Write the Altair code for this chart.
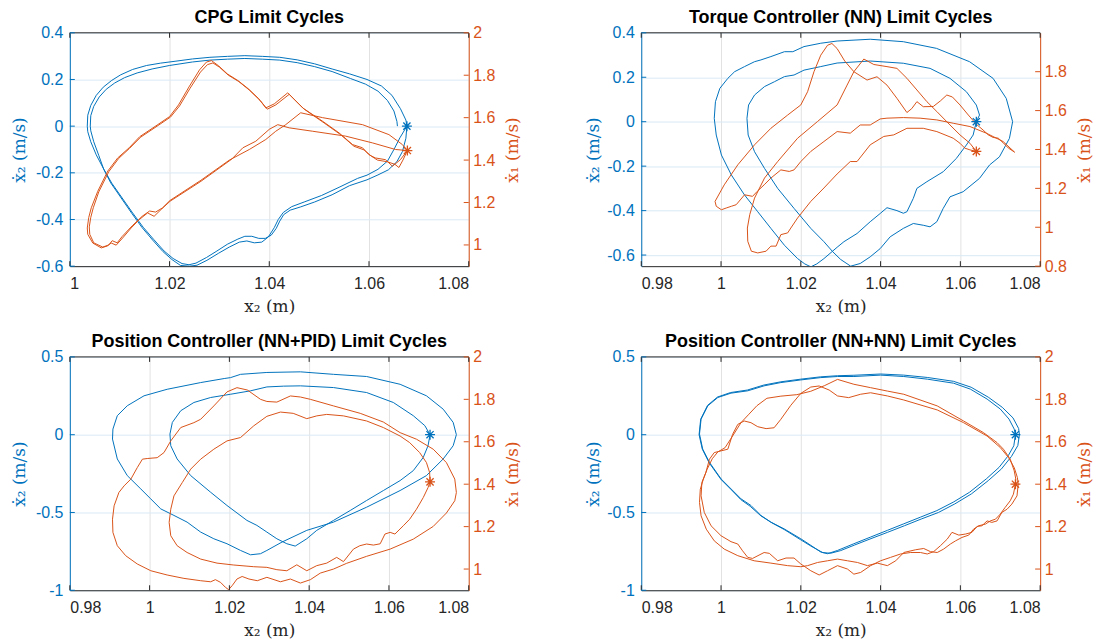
import altair as alt
import pandas as pd

BLUE = "#0072BD"
ORANGE = "#D95319"
DARK = "#262626"
STAR = "M-1,0L1,0M0,-1L0,1M-0.72,-0.72L0.72,0.72M-0.72,0.72L0.72,-0.72"
TICK_UP = "M0,0L0,-1"
TICK_DOWN = "M0,0L0,1"
TICK_RIGHT = "M0,0L1,0"
TICK_LEFT = "M0,0L-1,0"
W, H = 400, 234

# ---------------- CPG (top-left) ----------------
TL_X_TICKS = [1.00, 1.02, 1.04, 1.06, 1.08]
TL_L_TICKS = [-0.6, -0.4, -0.2, 0.0, 0.2, 0.4]
TL_R_TICKS = [1.0, 1.2, 1.4, 1.6, 1.8, 2.0]
TL_BLUE_A = [(1.0676,0.000),(1.0674,-0.052),(1.0667,-0.109),(1.0656,-0.152),(1.0639,-0.187),(1.0618,-0.209),(1.0596,-0.230),(1.0561,-0.255),(1.0526,-0.294),(1.0491,-0.325),(1.0463,-0.346),(1.0442,-0.360),(1.0429,-0.379),(1.0421,-0.407),(1.0414,-0.438),(1.0404,-0.467),(1.0392,-0.481),(1.0379,-0.481),(1.0365,-0.472),(1.0351,-0.472),(1.0337,-0.484),(1.0316,-0.506),(1.0295,-0.535),(1.0274,-0.563),(1.0253,-0.587),(1.0239,-0.594),(1.0225,-0.589),(1.0207,-0.567),(1.0189,-0.535),(1.0168,-0.485),(1.0147,-0.433),(1.0126,-0.372),(1.0105,-0.308),(1.0084,-0.244),(1.0067,-0.180),(1.0053,-0.123),(1.0042,-0.067),(1.0036,-0.024),(1.0035,0.000),(1.0036,0.047),(1.0042,0.089),(1.0053,0.132),(1.0067,0.167),(1.0084,0.196),(1.0102,0.220),(1.0126,0.243),(1.0154,0.260),(1.0182,0.270),(1.0211,0.278),(1.0246,0.288),(1.0281,0.295),(1.0316,0.299),(1.0351,0.302),(1.0386,0.299),(1.0421,0.295),(1.0456,0.284),(1.0491,0.267),(1.0526,0.245),(1.0561,0.224),(1.0596,0.200),(1.0625,0.172),(1.0646,0.132),(1.0663,0.075),(1.0674,0.026),(1.0676,0.000)]
TL_BLUE_B = [(1.0676,0.000),(1.0662,-0.050),(1.0650,-0.100),(1.0637,-0.150),(1.0618,-0.185),(1.0596,-0.210),(1.0577,-0.224),(1.0540,-0.262),(1.0505,-0.297),(1.0470,-0.325),(1.0445,-0.345),(1.0428,-0.370),(1.0418,-0.400),(1.0410,-0.435),(1.0398,-0.475),(1.0385,-0.497),(1.0370,-0.500),(1.0355,-0.492),(1.0340,-0.497),(1.0320,-0.518),(1.0298,-0.545),(1.0275,-0.575),(1.0255,-0.596),(1.0240,-0.600),(1.0222,-0.597),(1.0205,-0.572),(1.0187,-0.538),(1.0166,-0.488),(1.0145,-0.435),(1.0124,-0.373),(1.0103,-0.308),(1.0082,-0.243),(1.0068,-0.185),(1.0058,-0.125),(1.0048,-0.067),(1.0042,-0.020),(1.0041,0.000),(1.0042,0.045),(1.0048,0.085),(1.0059,0.125),(1.0073,0.158),(1.0090,0.185),(1.0110,0.208),(1.0135,0.228),(1.0165,0.245),(1.0200,0.260),(1.0246,0.275),(1.0281,0.283),(1.0316,0.287),(1.0351,0.290),(1.0386,0.287),(1.0421,0.283),(1.0456,0.272),(1.0491,0.255),(1.0526,0.234),(1.0563,0.204),(1.0593,0.180),(1.0618,0.150),(1.0637,0.110),(1.0650,0.065),(1.0656,0.020),(1.0657,0.000)]
TL_ORANGE_1 = [(1.0677,1.445),(1.0653,1.450),(1.0607,1.481),(1.0553,1.513),(1.0487,1.536),(1.0440,1.552),(1.0417,1.567),(1.0400,1.545),(1.0373,1.489),(1.0347,1.458),(1.0325,1.405),(1.0263,1.300),(1.0201,1.206),(1.0183,1.167),(1.0169,1.135),(1.0156,1.151),(1.0139,1.119),(1.0123,1.080),(1.0106,1.033),(1.0093,0.999),(1.0083,1.009),(1.0075,0.995),(1.0063,0.986),(1.0046,1.009),(1.0036,1.050),(1.0035,1.080),(1.0038,1.130),(1.0043,1.175),(1.0056,1.253),(1.0076,1.348),(1.0096,1.410),(1.0119,1.458),(1.0140,1.510),(1.0175,1.565),(1.0200,1.605),(1.0218,1.660),(1.0239,1.745),(1.0260,1.825),(1.0274,1.862),(1.0284,1.869),(1.0298,1.845),(1.0316,1.806),(1.0337,1.775),(1.0358,1.736),(1.0379,1.689),(1.0393,1.646),(1.0410,1.665),(1.0437,1.717),(1.0467,1.646),(1.0507,1.583),(1.0540,1.528),(1.0567,1.473),(1.0587,1.458),(1.0600,1.425),(1.0613,1.410),(1.0633,1.402),(1.0647,1.371),(1.0663,1.402),(1.0677,1.445)]
TL_ORANGE_2 = [(1.0677,1.445),(1.0667,1.473),(1.0640,1.520),(1.0587,1.567),(1.0507,1.600),(1.0463,1.623),(1.0433,1.567),(1.0413,1.536),(1.0393,1.497),(1.0360,1.450),(1.0320,1.400),(1.0263,1.305),(1.0201,1.210),(1.0186,1.175),(1.0172,1.155),(1.0160,1.160),(1.0145,1.135),(1.0125,1.090),(1.0105,1.040),(1.0095,1.010),(1.0085,1.020),(1.0078,1.000),(1.0066,0.990),(1.0048,1.010),(1.0040,1.050),(1.0039,1.085),(1.0042,1.130),(1.0047,1.175),(1.0058,1.250),(1.0078,1.345),(1.0098,1.408),(1.0120,1.456),(1.0142,1.508),(1.0177,1.563),(1.0202,1.603),(1.0220,1.655),(1.0241,1.738),(1.0262,1.815),(1.0276,1.850),(1.0287,1.858),(1.0300,1.838),(1.0318,1.800),(1.0339,1.770),(1.0360,1.730),(1.0382,1.680),(1.0396,1.640),(1.0413,1.660),(1.0440,1.710),(1.0470,1.640),(1.0510,1.575),(1.0543,1.520),(1.0570,1.465),(1.0590,1.448),(1.0605,1.418),(1.0617,1.400),(1.0637,1.392),(1.0652,1.380),(1.0660,1.365),(1.0668,1.400),(1.0677,1.445)]
TL_BLUE_STAR = (1.0676, 0.0)
TL_ORANGE_STAR = (1.0677, 1.445)

# ---------------- Torque NN (top-right) ----------------
TR_X_TICKS = [0.98, 1.00, 1.02, 1.04, 1.06, 1.08]
TR_L_TICKS = [-0.6, -0.4, -0.2, 0.0, 0.2, 0.4]
TR_R_TICKS = [0.8, 1.0, 1.2, 1.4, 1.6, 1.8]
TR_BLUE = [(1.0640,0.000),(1.0632,-0.060),(1.0615,-0.105),(1.0590,-0.165),(1.0557,-0.225),(1.0516,-0.270),(1.0491,-0.300),(1.0482,-0.345),(1.0466,-0.405),(1.0457,-0.412),(1.0441,-0.400),(1.0416,-0.387),(1.0399,-0.413),(1.0374,-0.450),(1.0341,-0.503),(1.0308,-0.540),(1.0291,-0.565),(1.0258,-0.616),(1.0240,-0.640),(1.0225,-0.653),(1.0210,-0.640),(1.0192,-0.616),(1.0159,-0.556),(1.0125,-0.480),(1.0092,-0.405),(1.0059,-0.330),(1.0026,-0.240),(1.0001,-0.150),(0.9988,-0.060),(0.9983,0.015),(0.9986,0.090),(0.9997,0.150),(1.0017,0.195),(1.0034,0.225),(1.0059,0.248),(1.0084,0.270),(1.0100,0.278),(1.0125,0.293),(1.0159,0.315),(1.0180,0.315),(1.0208,0.338),(1.0250,0.353),(1.0291,0.363),(1.0374,0.371),(1.0457,0.360),(1.0540,0.330),(1.0623,0.270),(1.0682,0.195),(1.0715,0.105),(1.0731,0.000),(1.0723,-0.075),(1.0698,-0.158),(1.0673,-0.195),(1.0648,-0.255),(1.0607,-0.315),(1.0574,-0.338),(1.0557,-0.390),(1.0541,-0.450),(1.0524,-0.473),(1.0507,-0.466),(1.0482,-0.458),(1.0457,-0.480),(1.0424,-0.518),(1.0399,-0.571),(1.0374,-0.608),(1.0349,-0.638),(1.0325,-0.650),(1.0300,-0.620),(1.0280,-0.585),(1.0258,-0.540),(1.0225,-0.480),(1.0183,-0.390),(1.0142,-0.300),(1.0109,-0.210),(1.0084,-0.135),(1.0068,-0.060),(1.0065,0.015),(1.0069,0.075),(1.0084,0.120),(1.0109,0.158),(1.0134,0.180),(1.0159,0.203),(1.0183,0.210),(1.0208,0.232),(1.0250,0.248),(1.0291,0.264),(1.0374,0.273),(1.0457,0.263),(1.0524,0.240),(1.0574,0.195),(1.0615,0.135),(1.0640,0.075),(1.0648,0.030),(1.0640,0.000)]
TR_ORANGE_1 = [(1.0736,1.386),(1.0707,1.441),(1.0665,1.484),(1.0624,1.518),(1.0582,1.535),(1.0541,1.552),(1.0499,1.561),(1.0457,1.564),(1.0416,1.561),(1.0399,1.557),(1.0374,1.526),(1.0349,1.526),(1.0324,1.484),(1.0291,1.492),(1.0258,1.441),(1.0225,1.390),(1.0200,1.338),(1.0183,1.295),(1.0171,1.287),(1.0150,1.295),(1.0125,1.253),(1.0108,1.218),(1.0091,1.185),(1.0079,1.159),(1.0059,1.167),(1.0038,1.116),(1.0026,1.108),(1.0013,1.099),(1.0001,1.090),(0.9988,1.108),(0.9985,1.133),(1.0008,1.218),(1.0042,1.321),(1.0084,1.424),(1.0125,1.509),(1.0167,1.577),(1.0200,1.629),(1.0217,1.697),(1.0233,1.800),(1.0250,1.885),(1.0267,1.936),(1.0278,1.945),(1.0291,1.919),(1.0310,1.855),(1.0333,1.800),(1.0366,1.757),(1.0391,1.774),(1.0416,1.731),(1.0441,1.663),(1.0466,1.590),(1.0478,1.610),(1.0491,1.646),(1.0507,1.620),(1.0532,1.621),(1.0550,1.650),(1.0566,1.680),(1.0580,1.670),(1.0599,1.629),(1.0620,1.577),(1.0640,1.530),(1.0657,1.500),(1.0670,1.475),(1.0682,1.462),(1.0695,1.458),(1.0707,1.435),(1.0720,1.408),(1.0736,1.386)]
TR_ORANGE_2 = [(1.0640,1.390),(1.0624,1.398),(1.0611,1.407),(1.0599,1.432),(1.0582,1.458),(1.0541,1.492),(1.0507,1.509),(1.0466,1.509),(1.0433,1.475),(1.0408,1.467),(1.0374,1.424),(1.0341,1.338),(1.0324,1.338),(1.0291,1.274),(1.0258,1.202),(1.0225,1.133),(1.0192,1.048),(1.0175,0.996),(1.0167,0.971),(1.0150,0.962),(1.0138,0.903),(1.0125,0.903),(1.0113,0.877),(1.0092,0.868),(1.0076,0.877),(1.0067,0.928),(1.0066,0.996),(1.0072,1.065),(1.0084,1.150),(1.0109,1.253),(1.0142,1.338),(1.0192,1.458),(1.0242,1.544),(1.0291,1.629),(1.0316,1.731),(1.0333,1.800),(1.0358,1.865),(1.0383,1.837),(1.0416,1.826),(1.0441,1.817),(1.0466,1.766),(1.0491,1.706),(1.0516,1.646),(1.0541,1.595),(1.0574,1.526),(1.0599,1.475),(1.0624,1.432),(1.0640,1.390)]
TR_BLUE_STAR = (1.0640, 0.0)
TR_ORANGE_STAR = (1.0640, 1.390)

# ---------------- Position NN+PID (bottom-left) ----------------
B_X_TICKS = [0.98, 1.00, 1.02, 1.04, 1.06, 1.08]
B_L_TICKS = [-1.0, -0.5, 0.0, 0.5]
B_R_TICKS = [1.0, 1.2, 1.4, 1.6, 1.8, 2.0]
BL_BLUE_INNER = [(1.0703,0.000),(1.0698,-0.071),(1.0686,-0.146),(1.0661,-0.231),(1.0628,-0.295),(1.0586,-0.359),(1.0544,-0.423),(1.0503,-0.487),(1.0461,-0.551),(1.0419,-0.615),(1.0394,-0.669),(1.0365,-0.716),(1.0344,-0.701),(1.0319,-0.669),(1.0294,-0.626),(1.0269,-0.583),(1.0244,-0.551),(1.0194,-0.455),(1.0153,-0.370),(1.0103,-0.263),(1.0069,-0.156),(1.0053,-0.071),(1.0051,0.004),(1.0057,0.079),(1.0078,0.154),(1.0111,0.207),(1.0153,0.239),(1.0203,0.260),(1.0253,0.282),(1.0294,0.307),(1.0336,0.312),(1.0378,0.314),(1.0461,0.303),(1.0544,0.271),(1.0611,0.207),(1.0661,0.122),(1.0690,0.058),(1.0703,0.000)]
BL_BLUE_OUTER = [(1.0769,0.000),(1.0761,-0.071),(1.0736,-0.156),(1.0694,-0.263),(1.0628,-0.359),(1.0544,-0.466),(1.0461,-0.562),(1.0394,-0.615),(1.0332,-0.690),(1.0294,-0.744),(1.0278,-0.765),(1.0253,-0.772),(1.0228,-0.744),(1.0194,-0.701),(1.0161,-0.669),(1.0128,-0.626),(1.0094,-0.562),(1.0061,-0.519),(1.0028,-0.477),(1.0003,-0.413),(0.9978,-0.349),(0.9944,-0.263),(0.9919,-0.156),(0.9907,-0.028),(0.9908,0.036),(0.9919,0.122),(0.9944,0.186),(0.9986,0.250),(1.0044,0.292),(1.0128,0.335),(1.0187,0.361),(1.0203,0.367),(1.0228,0.388),(1.0294,0.400),(1.0378,0.404),(1.0461,0.388),(1.0544,0.374),(1.0628,0.324),(1.0694,0.250),(1.0736,0.164),(1.0761,0.079),(1.0769,0.000)]
BL_ORANGE_OUTER = [(1.0769,1.361),(1.0765,1.424),(1.0744,1.502),(1.0711,1.565),(1.0669,1.612),(1.0628,1.643),(1.0586,1.693),(1.0528,1.734),(1.0461,1.769),(1.0403,1.800),(1.0378,1.811),(1.0353,1.816),(1.0319,1.787),(1.0294,1.790),(1.0278,1.800),(1.0245,1.844),(1.0219,1.855),(1.0194,1.835),(1.0161,1.769),(1.0128,1.706),(1.0111,1.690),(1.0078,1.667),(1.0053,1.604),(1.0036,1.549),(1.0019,1.525),(0.9994,1.521),(0.9982,1.518),(0.9969,1.478),(0.9953,1.424),(0.9936,1.392),(0.9923,1.361),(0.9911,1.298),(0.9907,1.235),(0.9908,1.173),(0.9919,1.110),(0.9940,1.063),(0.9969,1.024),(1.0003,0.992),(1.0044,0.972),(1.0086,0.956),(1.0128,0.945),(1.0153,0.940),(1.0165,0.950),(1.0178,0.937),(1.0190,0.914),(1.0198,0.903),(1.0207,0.922),(1.0219,0.953),(1.0232,0.965),(1.0249,0.953),(1.0270,0.945),(1.0294,0.961),(1.0328,0.940),(1.0353,0.953),(1.0378,0.934),(1.0403,0.950),(1.0428,0.981),(1.0461,1.000),(1.0494,1.027),(1.0544,1.060),(1.0603,1.094),(1.0661,1.141),(1.0711,1.201),(1.0744,1.264),(1.0765,1.322),(1.0769,1.361)]
BL_ORANGE_INNER = [(1.0703,1.411),(1.0702,1.455),(1.0694,1.502),(1.0677,1.549),(1.0652,1.596),(1.0628,1.627),(1.0586,1.667),(1.0544,1.698),(1.0486,1.722),(1.0444,1.729),(1.0419,1.722),(1.0394,1.709),(1.0360,1.734),(1.0328,1.740),(1.0294,1.720),(1.0261,1.675),(1.0228,1.620),(1.0194,1.604),(1.0161,1.565),(1.0128,1.518),(1.0103,1.471),(1.0082,1.408),(1.0061,1.345),(1.0053,1.282),(1.0049,1.220),(1.0053,1.157),(1.0069,1.110),(1.0094,1.078),(1.0128,1.047),(1.0169,1.028),(1.0211,1.019),(1.0261,1.011),(1.0294,1.008),(1.0319,0.997),(1.0344,0.992),(1.0369,1.020),(1.0394,0.992),(1.0419,1.016),(1.0444,1.028),(1.0469,1.055),(1.0486,1.035),(1.0511,1.094),(1.0527,1.110),(1.0544,1.118),(1.0561,1.113),(1.0578,1.119),(1.0590,1.165),(1.0603,1.173),(1.0615,1.165),(1.0636,1.204),(1.0652,1.235),(1.0669,1.282),(1.0686,1.337),(1.0698,1.384),(1.0703,1.411)]
BL_BLUE_STAR = (1.0703, 0.0)
BL_ORANGE_STAR = (1.0703, 1.411)

# ---------------- Position NN+NN (bottom-right) ----------------
BR_BLUE_1 = [(1.0738,0.000),(1.0734,-0.071),(1.0720,-0.135),(1.0697,-0.210),(1.0665,-0.284),(1.0623,-0.370),(1.0582,-0.434),(1.0541,-0.488),(1.0500,-0.530),(1.0458,-0.573),(1.0417,-0.615),(1.0375,-0.658),(1.0333,-0.701),(1.0292,-0.744),(1.0267,-0.765),(1.0250,-0.754),(1.0225,-0.711),(1.0200,-0.669),(1.0158,-0.605),(1.0125,-0.562),(1.0100,-0.519),(1.0075,-0.455),(1.0050,-0.412),(1.0025,-0.348),(1.0000,-0.284),(0.9971,-0.178),(0.9954,-0.092),(0.9946,0.004),(0.9950,0.100),(0.9967,0.186),(0.9992,0.239),(1.0025,0.267),(1.0067,0.282),(1.0108,0.314),(1.0150,0.335),(1.0200,0.352),(1.0250,0.367),(1.0292,0.374),(1.0333,0.374),(1.0400,0.383),(1.0458,0.374),(1.0517,0.357),(1.0583,0.331),(1.0625,0.293),(1.0667,0.229),(1.0700,0.165),(1.0722,0.100),(1.0735,0.036),(1.0738,0.000)]
BR_BLUE_2 = [(1.0748,0.000),(1.0744,-0.070),(1.0728,-0.140),(1.0703,-0.220),(1.0670,-0.295),(1.0628,-0.380),(1.0586,-0.445),(1.0545,-0.500),(1.0502,-0.542),(1.0460,-0.585),(1.0418,-0.627),(1.0376,-0.668),(1.0334,-0.710),(1.0300,-0.745),(1.0275,-0.762),(1.0255,-0.758),(1.0228,-0.720),(1.0200,-0.676),(1.0160,-0.612),(1.0127,-0.566),(1.0100,-0.522),(1.0073,-0.460),(1.0050,-0.418),(1.0025,-0.352),(1.0000,-0.288),(0.9970,-0.180),(0.9953,-0.093),(0.9945,0.000),(0.9949,0.100),(0.9966,0.188),(0.9991,0.242),(1.0024,0.271),(1.0066,0.287),(1.0107,0.319),(1.0150,0.340),(1.0200,0.357),(1.0250,0.372),(1.0292,0.379),(1.0333,0.382),(1.0400,0.390),(1.0458,0.383),(1.0517,0.368),(1.0583,0.343),(1.0627,0.305),(1.0670,0.241),(1.0705,0.176),(1.0732,0.108),(1.0746,0.040),(1.0748,0.000)]
BR_ORANGE_A = [(1.0745,1.400),(1.0742,1.345),(1.0729,1.306),(1.0717,1.282),(1.0704,1.267),(1.0692,1.227),(1.0679,1.220),(1.0667,1.227),(1.0654,1.204),(1.0642,1.201),(1.0629,1.173),(1.0613,1.165),(1.0596,1.160),(1.0579,1.173),(1.0567,1.141),(1.0550,1.110),(1.0533,1.082),(1.0517,1.071),(1.0500,1.078),(1.0475,1.078),(1.0450,1.071),(1.0425,1.055),(1.0400,1.039),(1.0375,1.016),(1.0350,0.984),(1.0333,0.976),(1.0317,1.000),(1.0292,1.016),(1.0267,0.992),(1.0246,0.972),(1.0225,0.992),(1.0200,1.024),(1.0183,1.052),(1.0163,1.052),(1.0142,1.039),(1.0121,1.074),(1.0108,1.078),(1.0079,1.050),(1.0067,1.055),(1.0054,1.086),(1.0042,1.118),(1.0025,1.129),(1.0000,1.157),(0.9975,1.204),(0.9958,1.267),(0.9950,1.345),(0.9952,1.408),(0.9962,1.455),(0.9971,1.518),(0.9983,1.549),(1.0000,1.557),(1.0017,1.565),(1.0029,1.635),(1.0042,1.682),(1.0058,1.698),(1.0075,1.690),(1.0092,1.671),(1.0113,1.662),(1.0133,1.666),(1.0150,1.706),(1.0175,1.772),(1.0200,1.828),(1.0225,1.858),(1.0246,1.863),(1.0271,1.844),(1.0292,1.816),(1.0320,1.808),(1.0350,1.824),(1.0375,1.831),(1.0417,1.816),(1.0458,1.797),(1.0542,1.750),(1.0608,1.690),(1.0667,1.627),(1.0700,1.573),(1.0721,1.525),(1.0735,1.478),(1.0743,1.431),(1.0745,1.400)]
BR_ORANGE_B = [(1.0738,1.400),(1.0733,1.353),(1.0725,1.322),(1.0712,1.290),(1.0700,1.259),(1.0688,1.235),(1.0675,1.227),(1.0663,1.212),(1.0646,1.204),(1.0633,1.188),(1.0621,1.160),(1.0604,1.149),(1.0588,1.133),(1.0575,1.118),(1.0558,1.094),(1.0542,1.078),(1.0525,1.082),(1.0508,1.097),(1.0488,1.091),(1.0458,1.078),(1.0438,1.039),(1.0417,1.016),(1.0392,1.028),(1.0367,1.016),(1.0342,1.031),(1.0317,1.039),(1.0292,1.047),(1.0267,1.039),(1.0242,1.031),(1.0217,1.016),(1.0200,1.011),(1.0167,1.016),(1.0125,1.028),(1.0083,1.039),(1.0042,1.063),(1.0008,1.094),(0.9983,1.133),(0.9963,1.188),(0.9950,1.251),(0.9946,1.314),(0.9948,1.376),(0.9955,1.420),(0.9965,1.470),(0.9978,1.520),(0.9992,1.552),(1.0010,1.572),(1.0030,1.630),(1.0050,1.690),(1.0070,1.730),(1.0090,1.770),(1.0115,1.805),(1.0150,1.815),(1.0190,1.822),(1.0225,1.838),(1.0260,1.865),(1.0292,1.894),(1.0333,1.871),(1.0375,1.855),(1.0417,1.839),(1.0458,1.824),(1.0542,1.769),(1.0608,1.698),(1.0658,1.643),(1.0692,1.596),(1.0708,1.565),(1.0725,1.518),(1.0735,1.463),(1.0739,1.424),(1.0738,1.400)]
BR_BLUE_STAR = (1.0738, 0.0)
BR_ORANGE_STAR = (1.0738, 1.400)

NUM = "replace(format(datum.value, '{f}'), '\u2212', '-')"


def to_df(paths):
    rows = []
    for k, p in enumerate(paths):
        for i, (x, y) in enumerate(p):
            rows.append({"x": x, "y": y, "i": i, "seg": k})
    return pd.DataFrame(rows)


def panel(title, xdom, xticks, blue_paths, blue_star, ldom, lticks,
          orange_paths, orange_star, rdom, rticks, ltx):
    def xaxis():
        return alt.Axis(values=xticks, labelExpr=NUM.format(f=".2~f"), ticks=False, tickSize=0,
                        grid=True, gridColor="#e2e2e2", domainColor=DARK, labelColor=DARK,
                        labelFont="Liberation Sans", labelFontSize=16, labelPadding=9,
                        title="x₂ (m)", titleFont="DejaVu Serif", titleFontSize=17,
                        titleFontWeight="normal", titleColor=DARK, titleX=W / 2, titleY=40,
                        titleAlign="center", titleBaseline="middle")
    laxis = alt.Axis(orient="left", values=lticks, labelExpr=NUM.format(f=".1~f"), ticks=False,
                     tickSize=0, grid=True, gridColor="#d9e9f5", domainColor=BLUE, labelColor=BLUE,
                     labelFont="Liberation Sans", labelFontSize=16, labelPadding=7,
                     title="ẋ₂ (m/s)", titleFont="DejaVu Serif", titleFontSize=17,
                     titleFontWeight="normal", titleColor=BLUE, titleAngle=270, titleX=ltx,
                     titleY=H / 2, titleAlign="center", titleBaseline="middle")
    raxis = alt.Axis(orient="right", values=rticks, labelExpr=NUM.format(f=".1~f"), ticks=False,
                     tickSize=0, grid=False, domainColor=ORANGE, labelColor=ORANGE,
                     labelFont="Liberation Sans", labelFontSize=16, labelPadding=4,
                     title="ẋ₁ (m/s)", titleFont="DejaVu Serif", titleFontSize=17,
                     titleFontWeight="normal", titleColor=ORANGE, titleAngle=270, titleX=44,
                     titleY=H / 2, titleAlign="center", titleBaseline="middle")

    def xs():
        return alt.Scale(domain=xdom, nice=False, zero=False)

    def ls():
        return alt.Scale(domain=ldom, nice=False, zero=False)

    def rs():
        return alt.Scale(domain=rdom, nice=False, zero=False)

    def pts(df, shape, color, size, sw, yscale):
        return alt.Chart(df).mark_point(shape=shape, size=size, filled=False, color=color,
                                        strokeWidth=sw, opacity=1).encode(
            x=alt.X("x:Q", scale=xs(), axis=xaxis()), y=alt.Y("y:Q", scale=yscale, axis=None))

    blue_line = alt.Chart(to_df(blue_paths)).mark_line(color=BLUE, strokeWidth=1, clip=True).encode(
        x=alt.X("x:Q", scale=xs(), axis=xaxis()), y=alt.Y("y:Q", scale=ls(), axis=laxis),
        detail="seg:N", order="i:Q")
    orange_line = alt.Chart(to_df(orange_paths)).mark_line(color=ORANGE, strokeWidth=1, clip=True).encode(
        x=alt.X("x:Q", scale=xs(), axis=xaxis()), y=alt.Y("y:Q", scale=rs(), axis=raxis),
        detail="seg:N", order="i:Q")
    top_border = alt.Chart(pd.DataFrame({"x": [xdom[0]], "x1": [xdom[1]], "y": [ldom[1]]})).mark_rule(
        color=DARK, strokeWidth=1).encode(
        x=alt.X("x:Q", scale=xs(), axis=xaxis()), x2="x1:Q", y=alt.Y("y:Q", scale=ls(), axis=None))

    bottom_ticks = pts(pd.DataFrame({"x": xticks, "y": [ldom[0]] * len(xticks)}), TICK_UP, DARK, 100, 1, ls())
    top_ticks = pts(pd.DataFrame({"x": xticks, "y": [ldom[1]] * len(xticks)}), TICK_DOWN, DARK, 100, 1, ls())
    left_ticks = pts(pd.DataFrame({"x": [xdom[0]] * len(lticks), "y": lticks}), TICK_RIGHT, BLUE, 100, 1, ls())
    right_ticks = pts(pd.DataFrame({"x": [xdom[1]] * len(rticks), "y": rticks}), TICK_LEFT, ORANGE, 100, 1, rs())
    bstar = pts(pd.DataFrame({"x": [blue_star[0]], "y": [blue_star[1]]}), STAR, BLUE, 100, 1.3, ls())
    ostar = pts(pd.DataFrame({"x": [orange_star[0]], "y": [orange_star[1]]}), STAR, ORANGE, 100, 1.3, rs())

    return alt.layer(blue_line, orange_line, top_border, bottom_ticks, top_ticks, left_ticks,
                     right_ticks, bstar, ostar).resolve_scale(y="independent").properties(
        width=W, height=H,
        title=alt.TitleParams(title, font="Liberation Sans", fontSize=18, fontWeight="bold",
                              color="#000000", anchor="middle", offset=-2))


tl = panel("CPG Limit Cycles", [1.00, 1.08], TL_X_TICKS, [TL_BLUE_A, TL_BLUE_B], TL_BLUE_STAR,
           [-0.6, 0.4], TL_L_TICKS, [TL_ORANGE_1, TL_ORANGE_2], TL_ORANGE_STAR, [0.9, 2.0], TL_R_TICKS, -50)
tr = panel("Torque Controller (NN) Limit Cycles", [0.98, 1.08], TR_X_TICKS, [TR_BLUE], TR_BLUE_STAR,
           [-0.65, 0.4], TR_L_TICKS, [TR_ORANGE_1, TR_ORANGE_2], TR_ORANGE_STAR, [0.8, 2.0], TR_R_TICKS, -48)
bl = panel("Position Controller (NN+PID) Limit Cycles", [0.98, 1.08], B_X_TICKS,
           [BL_BLUE_INNER, BL_BLUE_OUTER], BL_BLUE_STAR, [-1.0, 0.5], B_L_TICKS,
           [BL_ORANGE_OUTER, BL_ORANGE_INNER], BL_ORANGE_STAR, [0.9, 2.0], B_R_TICKS, -50)
br = panel("Position Controller (NN+NN) Limit Cycles", [0.98, 1.08], B_X_TICKS,
           [BR_BLUE_1, BR_BLUE_2], BR_BLUE_STAR, [-1.0, 0.5], B_L_TICKS,
           [BR_ORANGE_A, BR_ORANGE_B], BR_ORANGE_STAR, [0.9, 2.0], B_R_TICKS, -48)

chart = alt.concat(tl, tr, bl, br, columns=2, spacing=alt.RowColnumber(row=91, column=173),
                   bounds="flush").properties(
    padding={"left": 3, "right": 3, "top": 0, "bottom": 0}, background="white").configure_view(
    stroke=None)

chart.save("out.html", embed_options={"renderer": "svg", "actions": False})
